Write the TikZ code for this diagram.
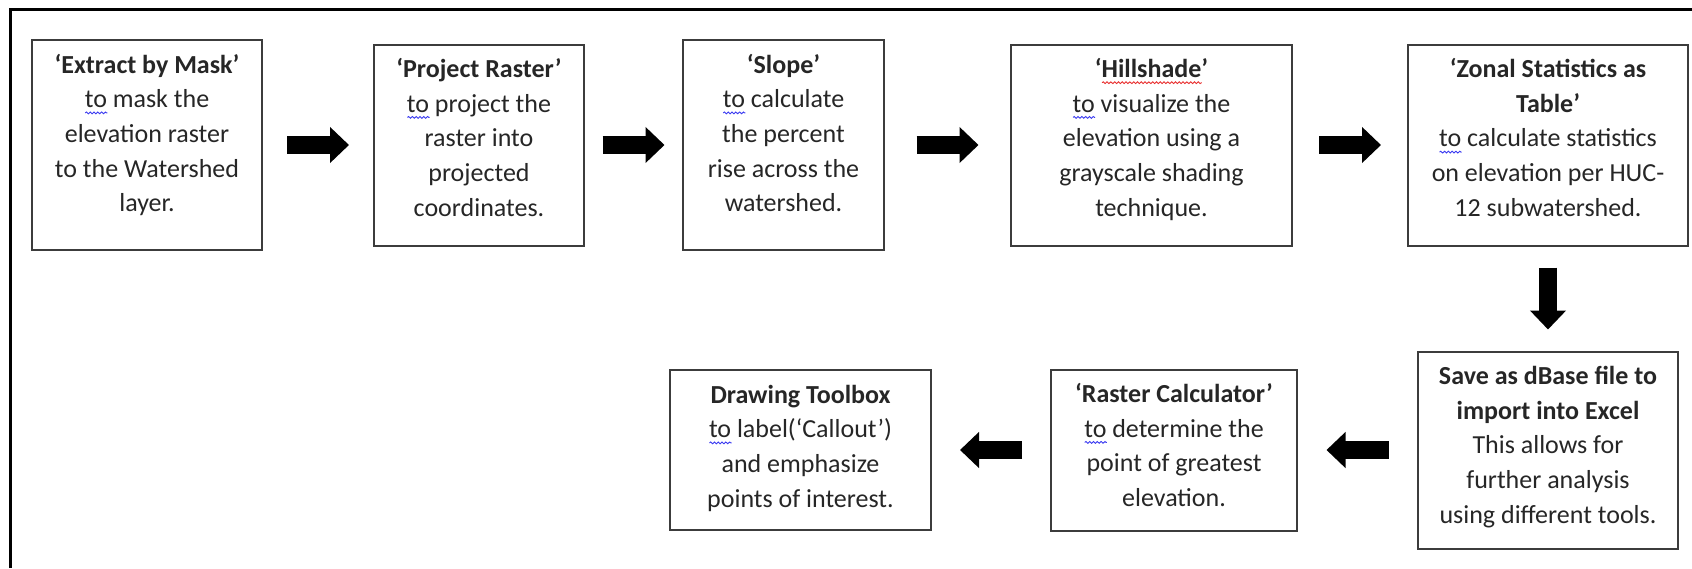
\documentclass[tikz,border=0pt]{standalone}
\usepackage{fontspec}
\setmainfont{Carlito}
\usetikzlibrary{positioning, arrows.meta, decorations.pathmorphing}

\definecolor{boxgray}{HTML}{3C3C3C}
\definecolor{spellblue}{HTML}{3A3AF0}
\definecolor{spellred}{HTML}{E83030}

% wavy spelling mark under a word
\newlength\spellwd
\newcommand\spell[2]{\settowidth\spellwd{#2}\leavevmode\rlap{\tikz[baseline=0pt]\draw[#1, line width=0.45pt, decorate, decoration={snake, amplitude=0.45pt, segment length=1.9pt}] (0pt,-2.6pt) -- (\spellwd,-2.6pt);}#2}

\tikzset{
  stepbox/.style 2 args={draw=boxgray, line width=1pt, text=black!85, align=center,
    font=\fontsize{13pt}{17.35pt}\selectfont, minimum width=#1,
    inner xsep=0pt, inner ysep=0pt, text height=85.9pt, text depth=#2},
  fourlines/.style={text height=68.55pt},
  flow/.style={line width=9pt, -{Triangle[length=9.5pt, width=17.5pt]}, shorten <=#1, shorten >=#1},
}

\begin{document}
\begin{tikzpicture}
  \useasboundingbox (0,0) rectangle (846pt,-284pt);
  \draw[line width=1.5pt] (5pt,-284pt) -- (5pt,-4.5pt) -- (846pt,-4.5pt);

  % top row
  \node[stepbox={115pt}{19.1pt}] (mask) at (73.5pt,-72.5pt) {\textbf{‘Extract by Mask’}\\ \spell{spellblue}{to} mask the\\ elevation raster\\ to the Watershed\\ layer.};
  \node[stepbox={105pt}{14.6pt}, right=55pt of mask] (project) {\textbf{‘Project Raster’}\\ \spell{spellblue}{to} project the\\ raster into\\ projected\\ coordinates.};
  \node[stepbox={100.5pt}{19.1pt}, right=48.5pt of project] (slope) {\textbf{‘Slope’}\\ \spell{spellblue}{to} calculate\\ the percent\\ rise across the\\ watershed.};
  \node[stepbox={140.5pt}{14.6pt}, right=62.5pt of slope] (hillshade) {\textbf{‘\spell{spellred}{Hillshade}’}\\ \spell{spellblue}{to} visualize the\\ elevation using a\\ grayscale shading\\ technique.};
  \node[stepbox={140pt}{14.6pt}, right=57pt of hillshade] (zonal) {\textbf{‘Zonal Statistics as}\\ \textbf{Table’}\\ \spell{spellblue}{to} calculate statistics\\ on elevation per HUC-\\ 12 subwatershed.};

  % bottom row
  \node[stepbox={130pt}{12.6pt}, below=52pt of zonal] (dbase) {\textbf{Save as dBase file to}\\ \textbf{import into Excel}\\ This allows for\\ further analysis\\ using different tools.};
  \node[stepbox={123pt}{11.95pt}, fourlines, left=59.5pt of dbase] (calculator) {\textbf{‘Raster Calculator’}\\ \spell{spellblue}{to} determine the\\ point of greatest\\ elevation.};
  \node[stepbox={130.5pt}{11.45pt}, fourlines, left=59pt of calculator] (toolbox) {\textbf{Drawing Toolbox}\\ \spell{spellblue}{to} label(‘Callout’)\\ and emphasize\\ points of interest.};

  \draw[flow=12pt] (mask) -- (project);
  \draw[flow=8.75pt] (project) -- (slope);
  \draw[flow=15.75pt] (slope) -- (hillshade);
  \draw[flow=13pt] (hillshade) -- (zonal);
  \draw[flow=10.5pt] (zonal) -- (dbase);
  \draw[flow=14.25pt] (dbase) -- (calculator);
  \draw[flow=14pt] (calculator) -- (toolbox);
\end{tikzpicture}
\end{document}
